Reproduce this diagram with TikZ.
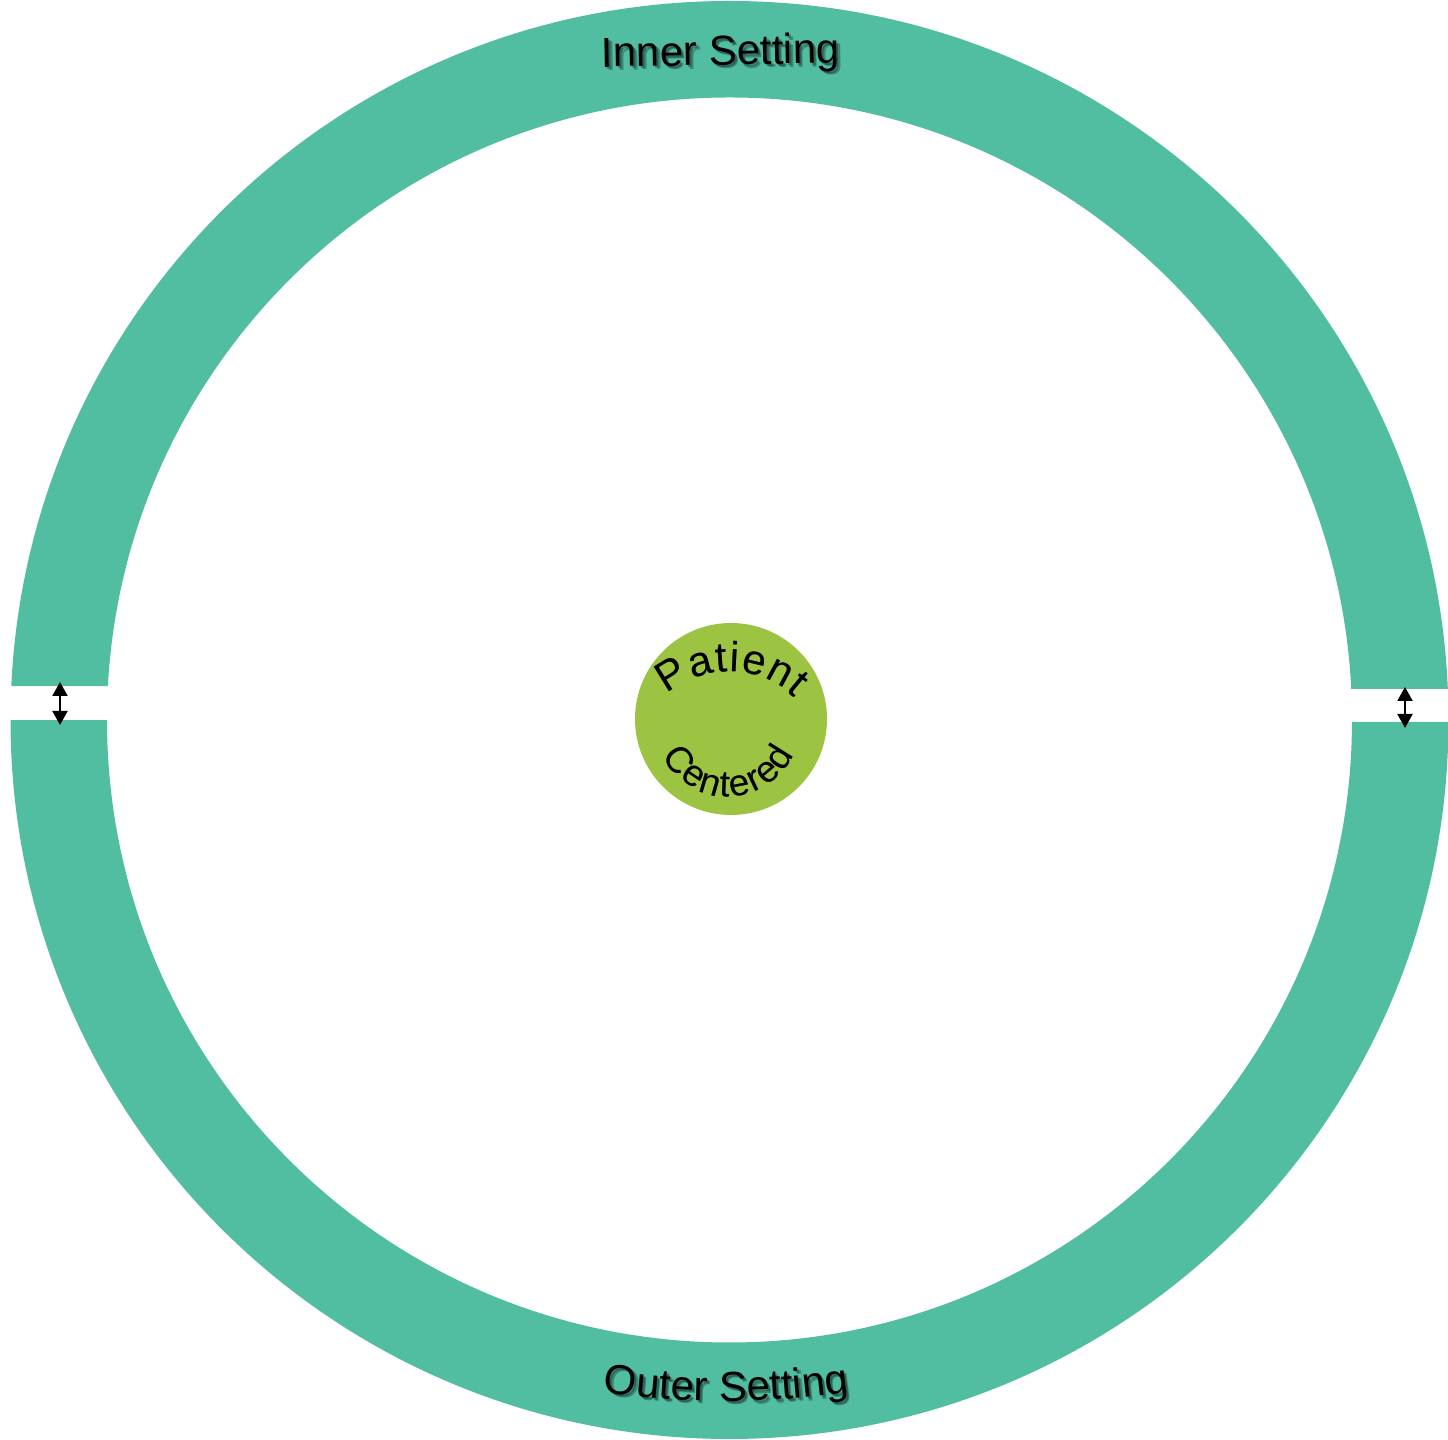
\documentclass[tikz,border=0pt]{standalone}
\usepackage{fontspec}
\setmainfont{Liberation Sans}
\usetikzlibrary{decorations.text,arrows.meta}
\definecolor{ringc}{RGB}{81,190,162}
\definecolor{corec}{RGB}{157,195,67}
\newcommand\bigfnt{\fontsize{21}{25}\selectfont}
\newcommand\patfnt{\fontsize{21}{24}\selectfont}
\newcommand\cenfnt{\fontsize{18.5}{21}\selectfont}
\begin{document}
\begin{tikzpicture}[x=0.5pt,y=0.5pt,
  ringpart/.style={fill=ringc, even odd rule},
  dblarrow/.style={line width=1pt, {Triangle[width=7.5pt,length=7pt]}-{Triangle[width=7.5pt,length=7pt]}},
  labeltext/.style={font=\bigfnt, inner sep=0pt},
  shadowlayer/.style={opacity=0.28}]
\useasboundingbox (0,0) rectangle (1448,1440);
\coordinate (C) at (729.5,720);
% upper part of ring (Inner Setting)
\begin{scope}
  \clip (-10,754) -- (1460,751) -- (1460,1450) -- (-10,1450) -- cycle;
  \fill[ringpart] (C) circle[radius=719] (C) circle[radius=622.5];
\end{scope}
% lower part of ring (Outer Setting)
\begin{scope}
  \clip (-10,720) -- (1460,718) -- (1460,-10) -- (-10,-10) -- cycle;
  \fill[ringpart] (C) circle[radius=719] (C) circle[radius=622.5];
\end{scope}
% centre
\node[circle, fill=corec, minimum size=96pt, inner sep=0pt] (core) at (731,721) {};
\coordinate (patc) at (729,672);
\coordinate (cenc) at (728,715);
% arrows in the gaps
\coordinate (la1) at (60,758);
\coordinate (la2) at (60,715);
\coordinate (ra1) at (1405,753);
\coordinate (ra2) at (1405,712);
\draw[dblarrow] (la1) -- (la2);
\draw[dblarrow] (ra1) -- (ra2);
% shadows
\foreach \d in {2,3.5}{
  \begin{scope}[shift={(\d,-\d)}, shadowlayer]
    \node[labeltext, anchor=base, rotate=1] (innershadow) at (721,1375) {Inner Setting};
    \path[decorate, decoration={text along path, text={|\bigfnt|Outer Setting}, text align=center}]
      (726,889) ++(250:850) arc[start angle=250, end angle=290, radius=850];
    \path[decorate, decoration={text along path, text={|\patfnt|Patient}, text align={fit to path}}]
      (patc) ++(130:96) arc[start angle=130, end angle=47, radius=96];
    \path[decorate, decoration={text along path, text={|\cenfnt|Centered}, text align={fit to path}}]
      (cenc) ++(205:72) arc[start angle=205, end angle=336, radius=72];
  \end{scope}
}
% texts
\node[labeltext, anchor=base, rotate=1] (inner) at (721,1375) {Inner Setting};
\path[decorate, decoration={text along path, text={|\bigfnt|Outer Setting}, text align=center}]
  (726,889) ++(250:850) arc[start angle=250, end angle=290, radius=850];
\path[decorate, decoration={text along path, text={|\patfnt|Patient}, text align={fit to path}}]
  (patc) ++(130:96) arc[start angle=130, end angle=47, radius=96];
\path[decorate, decoration={text along path, text={|\cenfnt|Centered}, text align={fit to path}}]
  (cenc) ++(205:72) arc[start angle=205, end angle=336, radius=72];
\end{tikzpicture}
\end{document}
